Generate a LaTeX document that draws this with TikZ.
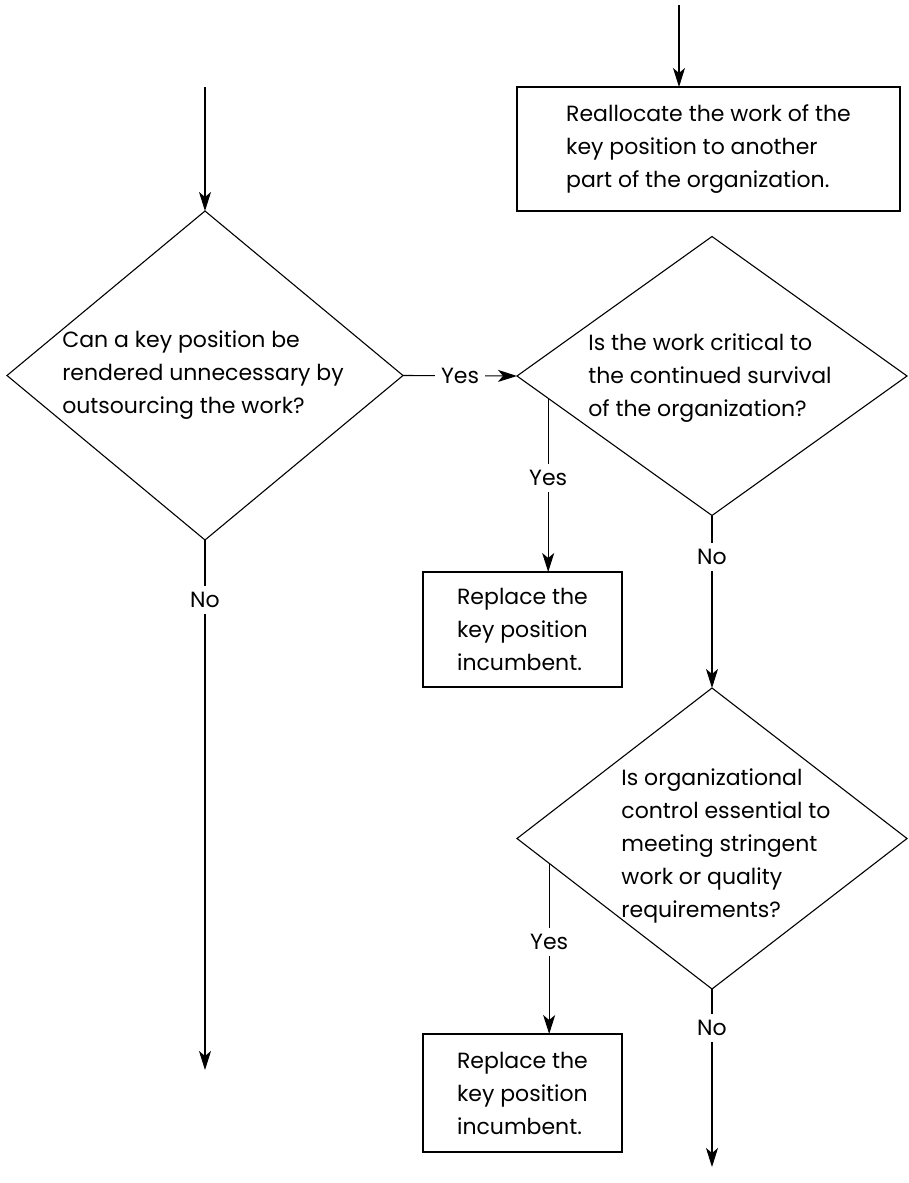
\documentclass[tikz,border=0pt]{standalone}
\usepackage{fontspec}
\setmainfont{Poppins}
\usetikzlibrary{shapes.geometric,arrows.meta,calc}
\begin{document}
\begin{tikzpicture}[x=1pt,y=-1pt,
  every node/.style={font=\fontsize{22}{33}\selectfont},
  box/.style={draw,line width=1.1pt,inner sep=0pt,outer sep=0pt,align=left},
  dmd/.style={draw,diamond,line width=1.1pt,inner sep=0pt,outer sep=0pt},
  txt/.style={align=left,inner sep=0pt},
  lbl/.style={fill=white,inner sep=6pt},
  arr/.style={line width=1.1pt,-{Stealth[length=19pt,width=12pt,inset=5pt]}},
  ln/.style={line width=1.1pt}]
\useasboundingbox (0,0) rectangle (909,1183);
% shapes
\node[box,minimum width=383pt,minimum height=124pt] (r0) at (708.5,149)
  {Reallocate the work of the\\key position to another\\part of the organization.};
\node[dmd,minimum width=396pt,minimum height=329pt] (d1) at (205,375.5) {};
\node[txt] (t1) at (203,375) {Can a key position be\\rendered unnecessary by\\outsourcing the work?};
\node[dmd,minimum width=390pt,minimum height=279pt] (d2) at (712,376) {};
\node[txt] (t2) at (710,378) {Is the work critical to\\the continued survival\\of the organization?};
\node[box,minimum width=199pt,minimum height=115pt] (b1) at (522.5,629.5)
  {Replace the\\key position\\incumbent.};
\node[dmd,minimum width=390pt,minimum height=301pt] (d3) at (712,838.5) {};
\node[txt] (t3) at (726,846) {Is organizational\\control essential to\\meeting stringent\\work or quality\\requirements?};
\node[box,minimum width=199pt,minimum height=118pt] (b2) at (522.5,1093)
  {Replace the\\key position\\incumbent.};
% free ends
\coordinate (s0) at (679,5);
\coordinate (s1) at (205,87);
\coordinate (e1) at (205,1070);
\coordinate (e3) at (712,1167);
\coordinate (p2) at ($(d2.west)!0.16!(d2.south)$);
\coordinate (p3) at ($(d3.west)!0.165!(d3.south)$);
% connectors
\draw[arr] (s0) -- (s0 |- r0.north);
\draw[arr] (s1) -- (d1.north);
\draw[arr] (d1.east) -- node[lbl,pos=0.5] (y1) {Yes} (d2.west);
\draw[arr] (d1.south) -- node[lbl,pos=0.113] (n1) {No} (e1);
\draw[arr] (p2) -- node[lbl,pos=0.46] (y2) {Yes} (p2 |- b1.north);
\draw[arr] (d2.south) -- node[lbl,pos=0.24] (n2) {No} (d3.north);
\draw[arr] (p3) -- node[lbl,pos=0.46] (y3) {Yes} (p3 |- b2.north);
\draw[arr] (d3.south) -- node[lbl,pos=0.22] (n3) {No} (e3);
\end{tikzpicture}
\end{document}
